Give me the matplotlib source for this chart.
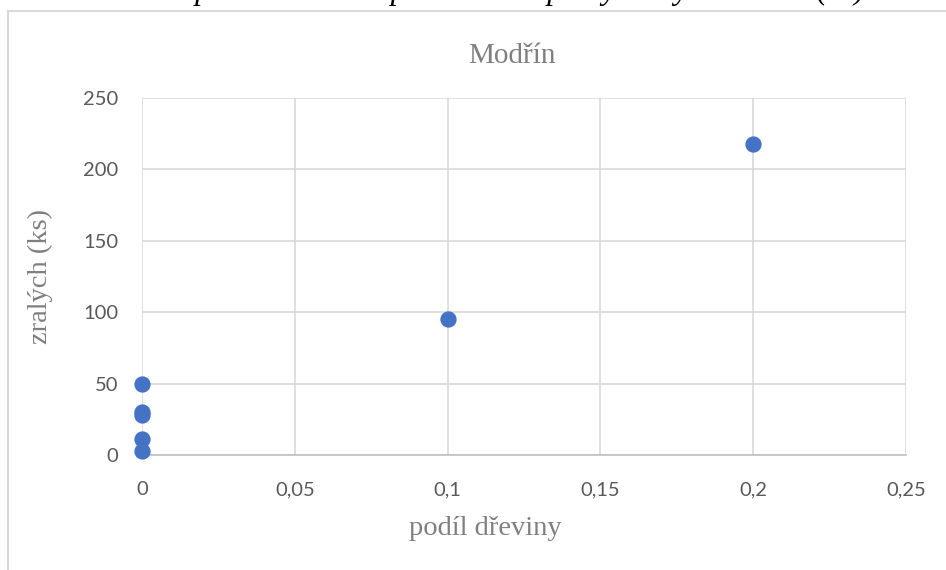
import matplotlib.pyplot as plt
from matplotlib.lines import Line2D
from matplotlib.ticker import FuncFormatter

# podil dreviny vs. pocet zralych sisek
podil = [0, 0, 0, 0, 0, 0.1, 0.2]
zralych = [50, 30, 28, 11, 3, 95, 218]
xticks = [0, 0.05, 0.1, 0.15, 0.2, 0.25]
yticks = [0, 50, 100, 150, 200, 250]

fig = plt.figure(figsize=(9.46, 5.70), dpi=100)
ax = fig.add_axes([142/946, 1-455/570, (906-142)/946, (455-98)/570])

ax.scatter(podil, zralych, s=115, c='#4472C4', zorder=3, clip_on=False)

ax.set_xlim(0, 0.25)
ax.set_ylim(0, 250)
ax.set_xticks(xticks)
ax.set_yticks(yticks)
ax.xaxis.set_major_formatter(FuncFormatter(lambda v, p: ('%g' % v).replace('.', ',')))
ax.grid(True, color='#d9d9d9', linewidth=1.2, zorder=0)
for s in ['top', 'right', 'left']:
    ax.spines[s].set_visible(False)
ax.spines['bottom'].set_color('#bfbfbf')
ax.spines['bottom'].set_linewidth(1.2)
ax.tick_params(length=0, labelsize=14.5, labelcolor='#595959')
ax.tick_params(axis='x', pad=19)
ax.tick_params(axis='y', pad=17)
for lab in ax.get_xticklabels() + ax.get_yticklabels():
    lab.set_family('Lato')

ax.set_title('Modřín', family='Liberation Serif', fontsize=21, color='#7f7f7f',
             pad=25, x=(512-142)/764)
ax.set_xlabel('podíl dřeviny', family='Liberation Serif', fontsize=20.5, color='#7f7f7f',
              labelpad=13, x=(485-142)/764)
ax.set_ylabel('zralých (ks)', family='Liberation Serif', fontsize=20.5, color='#7f7f7f', labelpad=22)

# chart frame
fig.add_artist(Line2D([8/946, 8/946], [0, 1-11/570], color='#d9d9d9', lw=1.5))
fig.add_artist(Line2D([8/946, 1], [1-11/570, 1-11/570], color='#d9d9d9', lw=1.5))

# caption cut at the top of the image
y_cap = 1 + 1/570
t1 = fig.text(0, y_cap, 'Graf 7: ', family='Liberation Serif', fontsize=23,
              fontweight='bold', va='baseline')
fig.canvas.draw()
x2 = t1.get_window_extent().x1 / fig.bbox.width
fig.text(x2, y_cap, 'Zastoupení modřínu opadavého a počty zralých oboutí (ks)',
         family='Liberation Serif', fontsize=23, style='italic', va='baseline')

fig.savefig('out.png', dpi=100)
